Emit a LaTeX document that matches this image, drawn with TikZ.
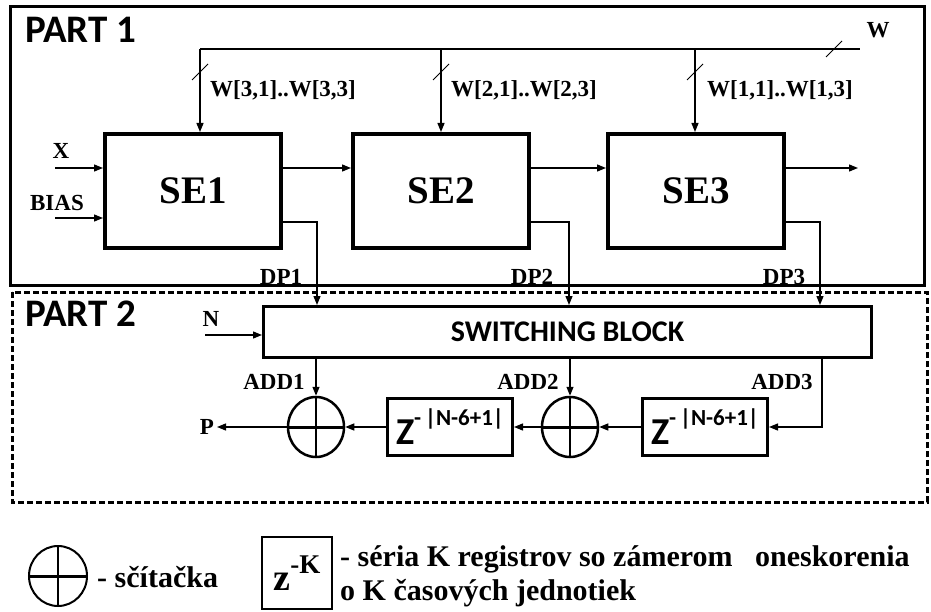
\documentclass[tikz,border=0pt]{standalone}
\usepackage{fontspec}
\setmainfont{Liberation Serif}
\newfontfamily\carlito{Carlito}
\usetikzlibrary{shapes.geometric,arrows.meta}
\tikzset{
  stage/.style={draw,line width=4pt,minimum width=176pt,minimum height=114pt,inner sep=0pt,
    font=\bfseries\fontsize{39}{39}\selectfont},
  switchbox/.style={draw,line width=3pt,minimum width=608pt,minimum height=51pt,inner sep=0pt,
    font=\carlito\bfseries\fontsize{30}{30}\selectfont},
  delay/.style={draw,line width=3pt,minimum width=125pt,minimum height=57pt,inner sep=0pt},
  adder/.style={draw,ellipse,line width=2.5pt,minimum width=56pt,minimum height=60pt,inner sep=0pt,
    path picture={\draw[line width=3pt] (path picture bounding box.west) -- (path picture bounding box.east);
      \draw[line width=2.5pt] (path picture bounding box.north) -- (path picture bounding box.south);}},
  tag/.style={inner sep=0pt,font=\bfseries\fontsize{23}{23}\selectfont},
  note/.style={inner sep=0pt,anchor=base west,font=\bfseries\fontsize{30}{30}\selectfont},
  part/.style={inner sep=0pt,anchor=west,font=\carlito\bfseries\fontsize{39}{39}\selectfont},
  sig/.style={line width=1.3pt,-{Triangle[length=9pt,width=7pt]}},
  wire/.style={line width=1.3pt},
  slash/.style={line width=0.8pt}
}
\newcommand\zdelay{{\carlito\bfseries\fontsize{38}{38}\selectfont Z\raisebox{19pt}{\fontsize{23}{23}\selectfont -\,|N-6+1|}}}

\begin{document}
\begin{tikzpicture}[x=1pt,y=-1pt]
  \useasboundingbox (0,0) rectangle (931,612);
  \draw[line width=3pt] (10,7) rectangle (924,285);
  \draw[line width=3pt,dash pattern=on 6pt off 3pt] (12,292) rectangle (927,502);
  \node[part] (p1) at (25,30) {PART 1};
  \node[part] (p2) at (25,314) {PART 2};

  \node[stage] (se1) at (193,191) {SE1};
  \node[stage] (se2) at (441,191) {SE2};
  \node[stage] (se3) at (696,191) {SE3};

  \coordinate (w1) at (200,49);
  \coordinate (w2) at (441,49);
  \coordinate (w3) at (695,49);
  \coordinate (wend) at (860,49);
  \draw[wire] (w1) -- (wend);
  \draw[slash] (wend) ++(-34,8) -- ++(16,-16);
  \node[tag] (wlab) at (878,30) {W};
  \draw[sig] (w1) -- (w1 |- se1.north);
  \draw[sig] (w2) -- (w2 |- se2.north);
  \draw[sig] (w3) -- (w3 |- se3.north);
  \foreach \n in {w1,w2,w3}
    \draw[slash] (\n) ++(-8,31) -- ++(16,-16);
  \node[tag,anchor=west] (wl1) at (210,90) {W[3,1]..W[3,3]};
  \node[tag,anchor=west] (wl2) at (451,90) {W[2,1]..W[2,3]};
  \node[tag,anchor=west] (wl3) at (707,90) {W[1,1]..W[1,3]};

  \coordinate (xin) at (55,168);
  \coordinate (bin) at (55,218);
  \draw[sig] (xin) -- (xin -| se1.west);
  \draw[sig] (bin) -- (bin -| se1.west);
  \node[tag] (xlab) at (61,151) {X};
  \node[tag] (blab) at (57,203) {BIAS};
  \draw[sig] (se1.east |- xin) -- (se2.west |- xin);
  \draw[sig] (se2.east |- xin) -- (se3.west |- xin);
  \coordinate (yout) at (858,168);
  \draw[sig] (se3.east |- xin) -- (yout);

  \node[switchbox] (sw) at (567.5,332) {SWITCHING BLOCK};
  \coordinate (dp1) at (317,222);
  \coordinate (dp2) at (569,222);
  \coordinate (dp3) at (820,222);
  \draw[sig] (se1.east |- dp1) -- (dp1) -- (dp1 |- sw.north);
  \draw[sig] (se2.east |- dp2) -- (dp2) -- (dp2 |- sw.north);
  \draw[sig] (se3.east |- dp3) -- (dp3) -- (dp3 |- sw.north);
  \node[tag] (dl1) at (281,277) {DP1};
  \node[tag] (dl2) at (532,277) {DP2};
  \node[tag] (dl3) at (784,277) {DP3};
  \coordinate (nin) at (205,335);
  \draw[sig] (nin) -- (nin -| sw.west);
  \node[tag] (nlab) at (211,319) {N};

  \node[adder] (s1) at (316,427) {};
  \node[adder] (s2) at (570,427) {};
  \node[delay] (d1) at (450,427) {\zdelay};
  \node[delay] (d2) at (705,427) {\zdelay};
  \draw[sig] (sw.south -| s1) -- (s1.north);
  \draw[sig] (sw.south -| s2) -- (s2.north);
  \coordinate (a3) at (822,427);
  \draw[sig] (sw.south -| a3) -- (a3) -- (d2.east);
  \draw[sig] (d2.west) -- (s2.east);
  \draw[sig] (s2.west) -- (d1.east);
  \draw[sig] (d1.west) -- (s1.east);
  \coordinate (pout) at (217,427);
  \draw[sig] (s1.west) -- (pout);
  \node[tag] (plab) at (207,427) {P};
  \node[tag] (al1) at (274,382) {ADD1};
  \node[tag] (al2) at (528,382) {ADD2};
  \node[tag] (al3) at (782,382) {ADD3};

  \node[adder,line width=2pt,minimum width=58pt,minimum height=60pt] (ks) at (58,576) {};
  \node[note] (kst) at (97,587) {- sčítačka};
  \node[draw,line width=1.2pt,minimum width=70pt,minimum height=72pt,inner sep=0pt] (kz) at (297,573)
    {\bfseries\fontsize{38}{38}\selectfont z\raisebox{17pt}{\fontsize{27}{27}\selectfont -K}};
  \node[note] (kr1) at (340,566) {- séria K registrov so zámerom\ \ \ oneskorenia};
  \node[note] (kr2) at (340,600) {o K časových jednotiek};
\end{tikzpicture}
\end{document}
